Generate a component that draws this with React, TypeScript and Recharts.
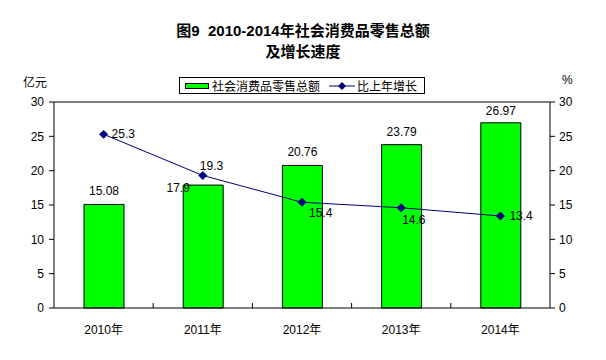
import { ComposedChart, Bar, Line, XAxis, YAxis, Legend, LabelList, ReferenceLine } from 'recharts'

const years = ['2010年', '2011年', '2012年', '2013年', '2014年']
const retailSales = [15.08, 17.9, 20.76, 23.79, 26.97]
const growthRate = [25.3, 19.3, 15.4, 14.6, 13.4]
const leftTicks = [0, 5, 10, 15, 20, 25, 30]
const rightTicks = [0, 5, 10, 15, 20, 25, 30]

const salesName = '社会消费品零售总额'
const growthName = '比上年增长'

const data = years.map((year, i) => ({ year, sales: retailSales[i], growth: growthRate[i] }))

// label nudges, copied from where the original placed them
const barLabelShift = [[0, -13], [-25, 3], [0, -13], [0, -13], [0, -12]]
const lineLabelShift = [[8, 0], [-3, -9], [7, 11], [1, 12], [9, 0]]

const FONT = "'Liberation Sans', Arial, 'Noto Sans CJK SC', sans-serif"
const NAVY = '#000080'
const GREEN = '#00ff00'

const BarValue = (props: any) => {
  const { x, y, width, value, index } = props
  const [dx, dy] = barLabelShift[index] || [0, -13]
  return (
    <text x={x + width / 2 + dx} y={y + dy} textAnchor="middle" dominantBaseline="central" fontSize={12} fill="#000" fontFamily={FONT}>
      {value}
    </text>
  )
}

const LineValue = (props: any) => {
  const { x, y, value, index } = props
  const [dx, dy] = lineLabelShift[index] || [8, 0]
  return (
    <text x={x + dx} y={y + dy} textAnchor="start" dominantBaseline="central" fontSize={12} fill="#000" fontFamily={FONT}>
      {value}
    </text>
  )
}

const Diamond = (props: any) => {
  const { cx, cy } = props
  if (cx == null || cy == null) return null
  return <polygon points={`${cx},${cy - 4} ${cx + 4},${cy} ${cx},${cy + 4} ${cx - 4},${cy}`} fill={NAVY} stroke={NAVY} />
}

// category label in the middle, small tick mark between categories (pointing up)
const YearTick = (props: any) => {
  const { x, y, payload, index, width, visibleTicksCount } = props
  const half = payload.offset || (width && visibleTicksCount ? width / visibleTicksCount / 2 : 0)
  return (
    <g>
      {index > 0 && <line x1={x - half} x2={x - half} y1={y} y2={y - 5} stroke="#000" />}
      <text x={x} y={y + 22} textAnchor="middle" dominantBaseline="central" fontSize={12} fill="#000" fontFamily={FONT}>
        {payload.value}
      </text>
    </g>
  )
}

const LegendBox = () => (
  <div
    style={{
      display: 'flex',
      alignItems: 'center',
      border: '1px solid #000',
      background: '#fff',
      height: 15,
      padding: '0 7px 0 5px',
      fontSize: 12,
      fontFamily: FONT,
      color: '#000',
      whiteSpace: 'nowrap',
    }}
  >
    <span style={{ display: 'inline-block', width: 22, height: 4, background: GREEN, border: '1px solid #000', marginRight: 3 }} />
    <span>{salesName}</span>
    <svg width={26} height={10} style={{ marginLeft: 9, marginRight: 2 }}>
      <line x1={0} x2={26} y1={5} y2={5} stroke={NAVY} />
      <polygon points="13,1 17,5 13,9 9,5" fill={NAVY} />
    </svg>
    <span>{growthName}</span>
  </div>
)

export default function App() {
  return (
    <div style={{ position: 'absolute', left: 0, top: 0, width: 606, height: 360, background: '#fff', fontFamily: FONT }}>
      <div
        style={{
          position: 'absolute',
          top: 20,
          left: 0,
          width: 606,
          textAlign: 'center',
          fontWeight: 'bold',
          fontSize: 15,
          lineHeight: '21px',
          color: '#000',
        }}
      >
        <div>图9&nbsp;&nbsp;2010-2014年社会消费品零售总额</div>
        <div>及增长速度</div>
      </div>
      <div style={{ position: 'absolute', left: 23, top: 73, fontSize: 12, color: '#000' }}>亿元</div>
      <div style={{ position: 'absolute', left: 562, top: 73, fontSize: 12, color: '#000' }}>%</div>
      <ComposedChart width={606} height={360} data={data} margin={{ top: 102, right: 0, left: 0, bottom: 22 }} barSize={40}>
        <XAxis
          dataKey="year"
          height={30}
          axisLine={{ stroke: '#000' }}
          tickLine={false}
          tickSize={0}
          tickMargin={0}
          tick={<YearTick />}
          interval={0}
        />
        <YAxis
          yAxisId="left"
          domain={[0, 30]}
          ticks={leftTicks}
          width={54}
          axisLine={{ stroke: '#000' }}
          tickLine={{ stroke: '#000' }}
          tickSize={5}
          tickMargin={5}
          tick={{ fill: '#000', fontSize: 12, fontFamily: FONT }}
          interval={0}
        />
        <YAxis
          yAxisId="right"
          orientation="right"
          domain={[0, 30]}
          ticks={rightTicks}
          width={56}
          axisLine={{ stroke: '#000' }}
          tickLine={{ stroke: '#000' }}
          tickSize={5}
          tickMargin={4}
          tick={{ fill: '#000', fontSize: 12, fontFamily: FONT }}
          interval={0}
        />
        <ReferenceLine yAxisId="left" y={30} stroke="#000" />
        <Legend
          layout="horizontal"
          align="center"
          verticalAlign="middle"
          content={<LegendBox />}
          wrapperStyle={{ position: 'absolute', top: 77, left: 179, width: 'auto', height: 'auto' }}
        />
        <Bar yAxisId="left" dataKey="sales" name={salesName} fill={GREEN} stroke="#000" strokeWidth={1} isAnimationActive={false}>
          <LabelList dataKey="sales" content={<BarValue />} />
        </Bar>
        <Line
          yAxisId="right"
          dataKey="growth"
          name={growthName}
          type="linear"
          stroke={NAVY}
          strokeWidth={1}
          dot={<Diamond />}
          activeDot={false}
          isAnimationActive={false}
        >
          <LabelList dataKey="growth" content={<LineValue />} />
        </Line>
      </ComposedChart>
    </div>
  )
}
